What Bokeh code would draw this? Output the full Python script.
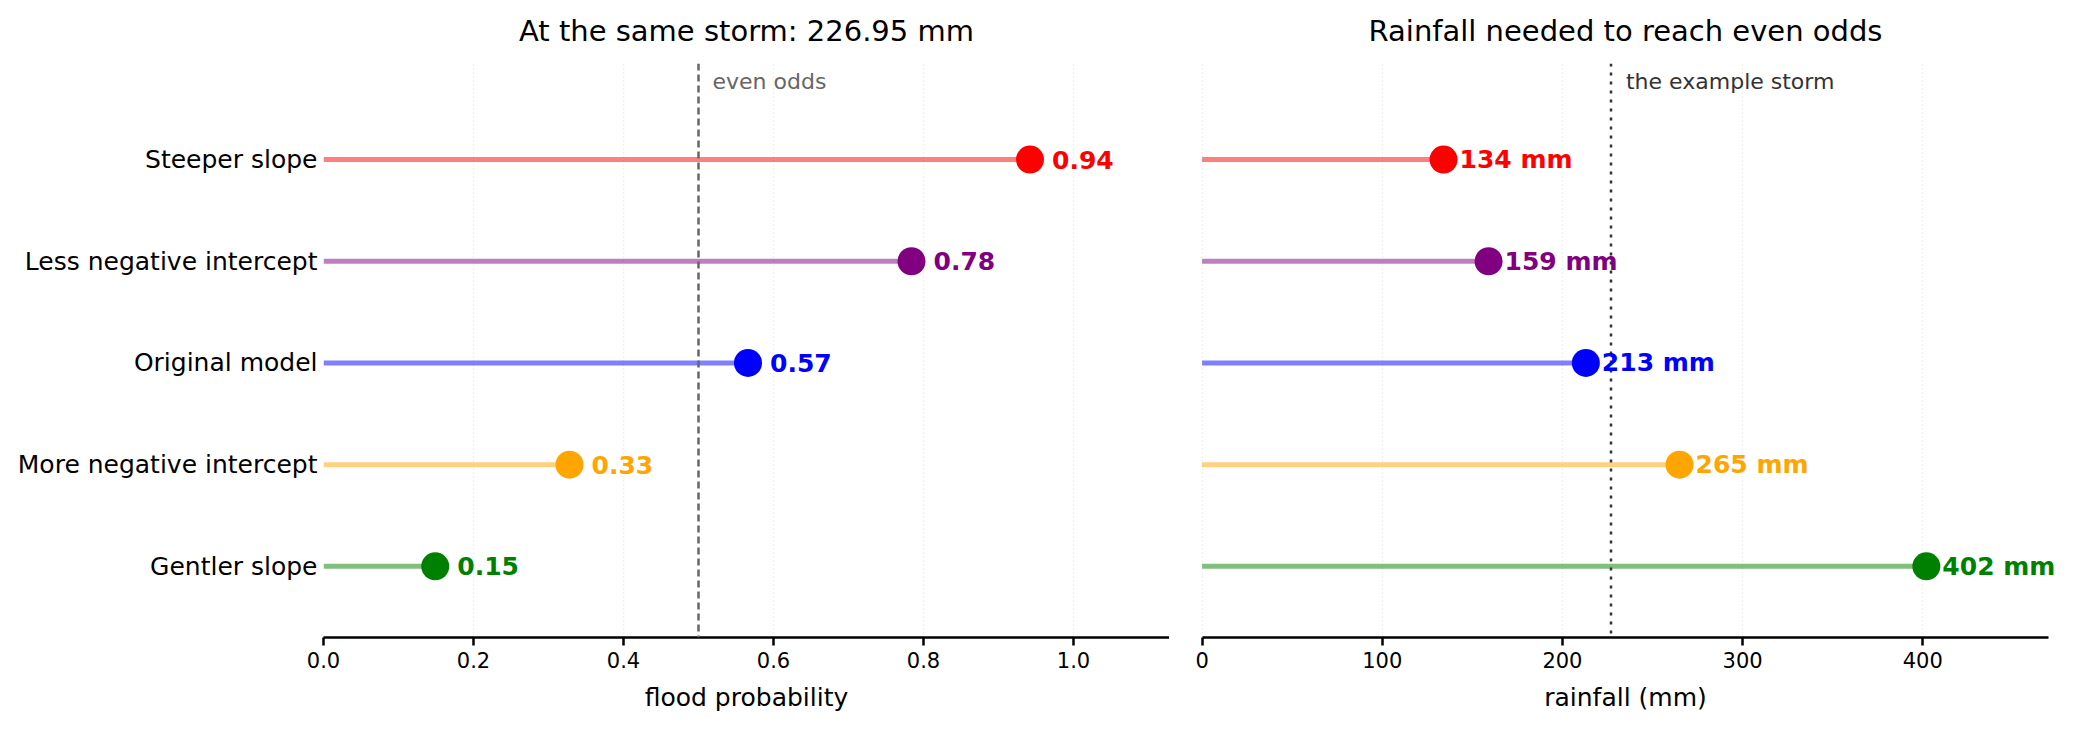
from bokeh.plotting import figure
from bokeh.layouts import row
from bokeh.models import (ColumnDataSource, Range1d, FixedTicker, PrintfTickFormatter,
                          Span, Label, LabelSet)
from bokeh.core.properties import value
from bokeh.embed import file_html
from bokeh.resources import INLINE

# ---- data (bottom row first) ----
models = ["Gentler slope", "More negative intercept", "Original model",
          "Less negative intercept", "Steeper slope"]
colors = ["green", "orange", "blue", "purple", "red"]
flood_prob = [0.149, 0.328, 0.566, 0.784, 0.942]
rain_needed = [402, 265, 213, 159, 134]
storm_mm = 226.95
even_odds = 0.5
prob_ticks = [0.0, 0.2, 0.4, 0.6, 0.8, 1.0]
rain_ticks = [0, 100, 200, 300, 400]
prob_axis_end = 1.128
rain_axis_end = 470

FONT = "DejaVu Sans"
ypos = list(range(len(models)))

src = ColumnDataSource(dict(
    y=ypos, model=models, color=colors, prob=flood_prob, rain=rain_needed,
    zero=[0] * len(models),
    prob_lab=[f"{v:.2f}" for v in flood_prob],
    rain_lab=[f"{v:.0f} mm" for v in rain_needed],
))

Y_RANGE = (-0.70, 4.945)
TOP = 63
BOTTOM = 81
H = TOP + 574 + BOTTOM


def style(p, xlabel):
    p.outline_line_color = None
    p.ygrid.visible = False
    p.xgrid.grid_line_color = "#e3e3e3"
    p.xgrid.grid_line_dash = "1 3"
    p.xgrid.grid_line_width = 1.5
    ax = p.xaxis[0]
    ax.axis_label = xlabel
    ax.axis_label_text_font = FONT
    ax.axis_label_text_font_size = "25px"
    ax.axis_label_text_font_style = "normal"
    ax.axis_label_text_color = "black"
    ax.axis_label_standoff = 12
    ax.major_label_text_font = FONT
    ax.major_label_text_font_size = "21px"
    ax.major_label_text_color = "black"
    ax.major_label_standoff = 6
    ax.axis_line_width = 2.5
    ax.axis_line_color = "black"
    ax.major_tick_line_width = 2.5
    ax.major_tick_line_color = "black"
    ax.major_tick_out = 8
    ax.major_tick_in = 0
    ax.minor_tick_line_color = None
    p.title.text_font = FONT
    p.title.text_font_size = "29px"
    p.title.text_font_style = "normal"
    p.title.text_color = "black"
    p.title.align = "center"
    p.title.vertical_align = "top"
    p.title.standoff = 27


def value_labels(p, xfield, tfield, offset):
    p.add_layout(LabelSet(x=xfield, y="y", text=tfield, source=src, x_offset=offset,
                          text_color={"field": "color"}, text_font=value(FONT),
                          text_font_style="bold", text_font_size="25px",
                          text_baseline="middle", text_align="left"))


# ---- left panel ----
left = figure(width=1169, height=H, output_backend="svg", toolbar_location=None,
              title="At the same storm: 226.95 mm",
              x_range=Range1d(0, prob_axis_end), y_range=Range1d(*Y_RANGE),
              min_border_left=323, min_border_right=0,
              min_border_top=TOP, min_border_bottom=BOTTOM)
style(left, "flood probability")
left.xaxis.ticker = FixedTicker(ticks=prob_ticks)
left.xaxis.formatter = PrintfTickFormatter(format="%.1f")
ya = left.yaxis[0]
ya.ticker = FixedTicker(ticks=ypos)
ya.major_label_overrides = {i: m for i, m in zip(ypos, models)}
ya.axis_line_color = None
ya.major_tick_line_color = None
ya.minor_tick_line_color = None
ya.major_tick_out = 0
ya.major_label_standoff = 6
ya.major_label_text_font = FONT
ya.major_label_text_font_size = "25px"
ya.major_label_text_color = "black"

left.segment(x0="zero", y0="y", x1="prob", y1="y", source=src,
             line_color="color", line_alpha=0.5, line_width=5)
left.add_layout(Span(location=even_odds, dimension="height", line_color="#666666",
                     line_dash="7 4", line_width=2.5))
left.scatter(x="prob", y="y", source=src, size=28, fill_color="color",
             line_color="color", line_width=0)
value_labels(left, "prob", "prob_lab", 22)
left.add_layout(Label(x=even_odds, y=4.77, x_offset=14, text="even odds",
                      text_font=FONT, text_font_size="22px", text_color="#666666",
                      text_baseline="middle"))

# ---- right panel ----
# the frame has blank room on both sides of the axis so the last value label is not clipped
EXTRA = 12  # data units
right = figure(width=903, height=H, output_backend="svg", toolbar_location=None,
               title="Rainfall needed to reach even odds",
               x_range=Range1d(-EXTRA, rain_axis_end + EXTRA), y_range=Range1d(*Y_RANGE),
               min_border_left=11, min_border_right=2,
               min_border_top=TOP, min_border_bottom=BOTTOM)
style(right, "rainfall (mm)")
right.xaxis.ticker = FixedTicker(ticks=rain_ticks)
right.xaxis.bounds = (0, rain_axis_end)
right.yaxis.visible = False

right.segment(x0="zero", y0="y", x1="rain", y1="y", source=src,
              line_color="color", line_alpha=0.5, line_width=5)
right.add_layout(Span(location=storm_mm, dimension="height", line_color="#333333",
                      line_dash="3 6", line_width=2.5))
right.scatter(x="rain", y="y", source=src, size=28, fill_color="color",
              line_color="color", line_width=0)
value_labels(right, "rain", "rain_lab", 16)
right.add_layout(Label(x=storm_mm, y=4.77, x_offset=15, text="the example storm",
                       text_font=FONT, text_font_size="22px", text_color="#333333",
                       text_baseline="middle"))

layout = row(left, right)
open("out.html", "w").write(file_html(layout, INLINE))
